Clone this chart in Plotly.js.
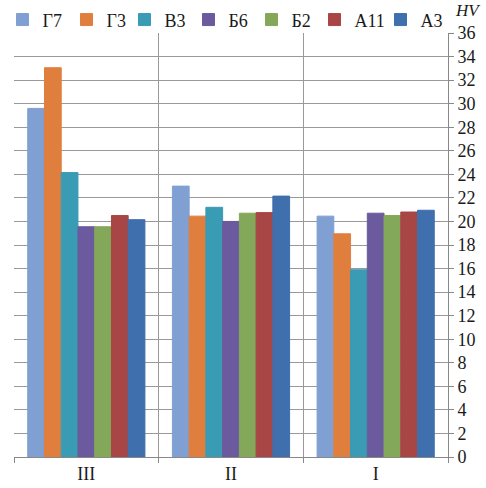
<!DOCTYPE html>
<html><head><meta charset="utf-8">
<script src="https://cdn.plot.ly/plotly-3.0.1.min.js"></script>
<style>html,body{margin:0;padding:0;background:#fff}#c{width:486px;height:488px}</style>
</head><body><div id="c"></div>
<script>
const categories = ['III', 'II', 'I'];
const seriesNames = ['Г7', 'Г3', 'В3', 'Б6', 'Б2', 'А11', 'А3'];
const G7  = [29.6, 23.0, 20.45];
const G3  = [33.05, 20.45, 18.95];
const V3  = [24.15, 21.2, 15.9];
const B6  = [19.55, 20.0, 20.7];
const B2  = [19.55, 20.7, 20.5];
const A11 = [20.5, 20.75, 20.8];
const A3  = [20.15, 22.15, 20.95];
const seriesValues = [G7, G3, V3, B6, B2, A11, A3];
const colors = ['#809fd2', '#e07f3d', '#3a9bb5', '#6b5a9d', '#84a859', '#a84545', '#3f6fad'];
const legendWidths = [19, 13, 19, 18, 18, 21, 22];
const yTicks = [0,2,4,6,8,10,12,14,16,18,20,22,24,26,28,30,32,34,36];

const font = {family: '"Liberation Serif", "DejaVu Serif", serif', size: 18, color: '#1a1a1a'};
const traces = seriesNames.map((n, i) => ({
  type: 'bar', name: n, x: categories, y: seriesValues[i],
  legendwidth: legendWidths[i],
  marker: {color: colors[i], line: {width: 1, color: colors[i]}}
}));
const layout = {
  width: 486, height: 488,
  margin: {l: 14, r: 38, t: 33, b: 31, autoexpand: false},
  paper_bgcolor: '#fff', plot_bgcolor: '#fff',
  font: font,
  barmode: 'group', bargap: 0.19, bargroupgap: 0,
  showlegend: true,
  legend: {orientation: 'h', x: -0.0265, y: 1.031, yanchor: 'middle', xanchor: 'left',
           font: font, itemwidth: 30, tracegroupgap: 0, traceorder: 'normal',
           bgcolor: 'rgba(0,0,0,0)'},
  xaxis: {type: 'category', tickson: 'boundaries', ticks: 'outside', ticklen: 5,
          tickcolor: '#888', showgrid: true, gridcolor: '#999', gridwidth: 1,
          showline: true, linecolor: '#888', mirror: false, fixedrange: true,
          tickfont: font},
  yaxis: {side: 'right', range: [0, 36], tickvals: yTicks, ticks: 'outside', ticklen: 5,
          tickcolor: '#888', showgrid: true, gridcolor: '#999', gridwidth: 1,
          showline: true, linecolor: '#888', zeroline: false, tickfont: font},
  annotations: [{text: '<i>HV</i>', xref: 'paper', yref: 'paper', x: 1.08, y: 1.0,
                 yanchor: 'middle', xanchor: 'right', yshift: 23, showarrow: false,
                 font: {family: font.family, size: 17, color: '#1a1a1a'}}]
};
Plotly.newPlot('c', traces, layout, {displayModeBar: false, staticPlot: true});
</script></body></html>
